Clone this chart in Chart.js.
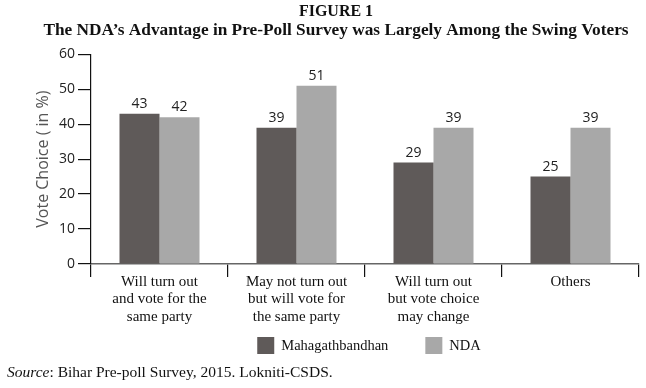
<!DOCTYPE html>
<html>
<head>
<meta charset="utf-8">
<script src="https://cdn.jsdelivr.net/npm/chart.js@4/dist/chart.umd.min.js"></script>
<style>
  html, body { margin: 0; padding: 0; background: #ffffff; }
  #wrap { width: 646px; height: 388px; position: relative; }
</style>
</head>
<body>
<div id="wrap"><canvas id="c" width="646" height="388"></canvas></div>
<script>
// ---- Data ----
const categories = [
  ["Will turn out", "and vote for the", "same party"],
  ["May not turn out", "but will vote for", "the same party"],
  ["Will turn out", "but vote choice", "may change"],
  ["Others"]
];
const mahagathbandhan = [43, 39, 29, 25];
const nda = [42, 51, 39, 39];
const seriesNames = ["Mahagathbandhan", "NDA"];
const yTicks = [0, 10, 20, 30, 40, 50, 60];
const titleText = "FIGURE 1";
const subtitleText = "The NDA\u2019s Advantage in Pre-Poll Survey was Largely Among the Swing Voters";
const yAxisTitle = "Vote Choice ( in %)";
const sourceLabel = "Source";
const sourceText = ": Bihar Pre-poll Survey, 2015. Lokniti-CSDS.";

const DARK = "#5f5a59";
const LIGHT = "#a8a8a8";
const SERIF = "'Liberation Serif', 'Times New Roman', serif";
const SANS = "'Open Sans', 'Liberation Sans', sans-serif";

// value labels above bars
const valueLabels = {
  id: "valueLabels",
  afterDatasetsDraw(chart) {
    const ctx = chart.ctx;
    ctx.save();
    ctx.font = "14px " + SANS;
    ctx.fillStyle = "#222";
    ctx.textAlign = "center";
    ctx.textBaseline = "bottom";
    chart.data.datasets.forEach((ds, di) => {
      const meta = chart.getDatasetMeta(di);
      meta.data.forEach((el, i) => {
        ctx.fillText(String(ds.data[i]), el.x, el.y - 3);
      });
    });
    ctx.restore();
  }
};

// legend + source note drawn below the axis
const footer = {
  id: "footer",
  afterDraw(chart) {
    const ctx = chart.ctx;
    ctx.save();
    const box = 17, gapText = 7, gapItem = 37;
    ctx.font = "14.5px " + SERIF;
    const items = chart.data.datasets.map(ds => ({
      label: ds.label, color: ds.backgroundColor, w: ctx.measureText(ds.label).width
    }));
    let total = 0;
    items.forEach((it, i) => { total += box + gapText + it.w + (i ? gapItem : 0); });
    const ca = chart.chartArea;
    let x = (ca.left + ca.right) / 2 - total / 2 + 4;
    const yTop = 337;
    ctx.textBaseline = "middle";
    ctx.textAlign = "left";
    items.forEach(it => {
      ctx.fillStyle = it.color;
      ctx.fillRect(x, yTop, box, box);
      ctx.fillStyle = "#111";
      ctx.fillText(it.label, x + box + gapText, yTop + box / 2 + 1);
      x += box + gapText + it.w + gapItem;
    });
    ctx.font = "italic 15.5px " + SERIF;
    ctx.fillStyle = "#111";
    ctx.fillText(sourceLabel, 7, 373);
    const sw = ctx.measureText(sourceLabel).width;
    ctx.font = "15.5px " + SERIF;
    ctx.fillText(sourceText, 7 + sw, 373);
    ctx.restore();
  }
};

new Chart(document.getElementById("c"), {
  type: "bar",
  data: {
    labels: categories,
    datasets: [
      { label: seriesNames[0], data: mahagathbandhan, backgroundColor: DARK },
      { label: seriesNames[1], data: nda, backgroundColor: LIGHT }
    ]
  },
  options: {
    responsive: false,
    animation: false,
    devicePixelRatio: 1,
    layout: { padding: { left: 33, right: 7, top: 0, bottom: 58 } },
    datasets: { bar: { categoryPercentage: 0.584, barPercentage: 1.0 } },
    plugins: {
      legend: { display: false },
      tooltip: { enabled: false },
      title: {
        display: true, text: titleText, color: "#111",
        font: { family: SERIF, size: 16, weight: "bold", lineHeight: 1.2 },
        padding: { top: 2, bottom: 0 }
      },
      subtitle: {
        display: true, text: subtitleText, color: "#111",
        font: { family: SERIF, size: 17.3, weight: "bold", lineHeight: 1.1 },
        padding: { top: 0, bottom: 14 }
      }
    },
    scales: {
      x: {
        offset: true,
        afterFit(scale) { scale.height = 66; },
        border: { display: true, color: "#666", width: 1.5 },
        grid: { display: true, drawOnChartArea: false, drawTicks: true, tickLength: 13, color: "#111", lineWidth: 1.2, offset: true },
        ticks: { color: "#111", font: { family: SERIF, size: 15, lineHeight: 1.17 }, padding: -4, maxRotation: 0, autoSkip: false }
      },
      y: {
        min: 0, max: 60,
        afterFit(scale) { scale.width = 58; },
        afterBuildTicks(scale) { scale.ticks = yTicks.map(v => ({ value: v })); },
        border: { display: true, color: "#111", width: 1.2 },
        grid: { display: true, drawOnChartArea: false, drawTicks: true, tickLength: 13, color: "#111", lineWidth: 1.2 },
        ticks: { color: "#222", font: { family: SANS, size: 14 }, padding: 3 },
        title: {
          display: true, text: yAxisTitle, color: "#555",
          font: { family: SANS, size: 16 }, padding: { top: 1, bottom: 0 }
        }
      }
    }
  },
  plugins: [valueLabels, footer]
});
</script>
</body>
</html>
